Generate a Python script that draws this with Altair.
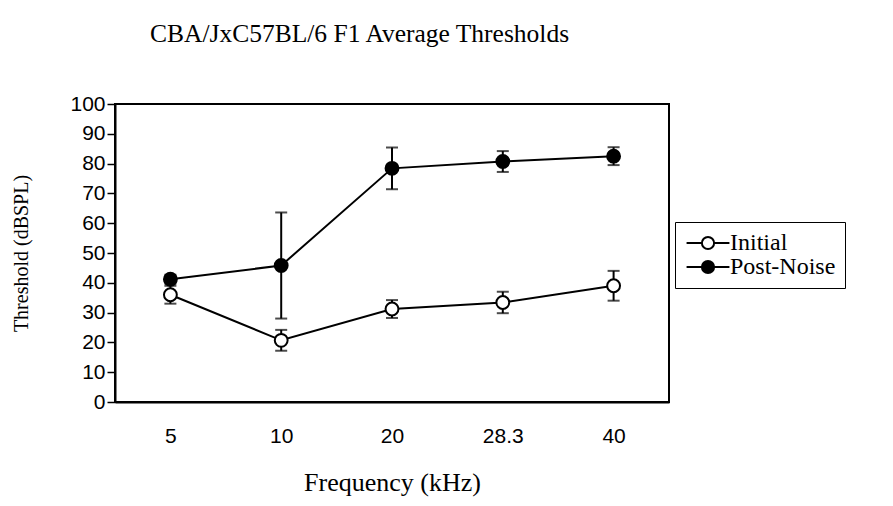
import altair as alt
import pandas as pd

# ---- data ----
freqs = ["5", "10", "20", "28.3", "40"]
series_names = ["Initial", "Post-Noise"]
initial_mean = [36.0, 20.7, 31.2, 33.4, 39.0]
initial_err = [3.0, 3.5, 3.0, 3.6, 5.0]
post_mean = [41.2, 45.8, 78.4, 80.7, 82.5]
post_err = [1.5, 17.8, 7.0, 3.5, 3.0]
y_ticks = list(range(0, 101, 10))

rows = []
for name, means, errs in [
    (series_names[1], post_mean, post_err),
    (series_names[0], initial_mean, initial_err),
]:
    for i, (f, m, e) in enumerate(zip(freqs, means, errs)):
        rows.append({"freq": f, "idx": i, "series": name, "mean": m,
                     "lo": m - e, "hi": m + e})
df = pd.DataFrame(rows)

SERIF = "Liberation Serif"
SANS = "Liberation Sans"

x_axis = alt.Axis(
    title="Frequency (kHz)", labelAngle=0, ticks=False, tickSize=0,
    domainColor="black", domainWidth=2,
    labelFont=SANS, labelFontSize=21, labelColor="black", labelPadding=23,
    titleFont=SERIF, titleFontSize=26, titleFontWeight="normal",
    titleColor="black", titlePadding=23,
)
x_enc = alt.X("freq:N", sort=freqs,
              scale=alt.Scale(type="point", padding=0.5), axis=x_axis)

y_scale = alt.Scale(domain=[0, 100], nice=False, zero=True)
y_axis = alt.Axis(
    values=y_ticks, grid=False, tickSize=8, tickColor="black", tickWidth=1.5,
    domainColor="black", domainWidth=2, labelOverlap=False,
    labelFont=SANS, labelFontSize=21, labelColor="black", labelPadding=2,
    title="Threshold (dBSPL)", titleFont=SERIF, titleFontSize=20,
    titleFontWeight="normal", titleColor="black", titlePadding=38,
)


def yq(field):
    return alt.Y(field, scale=y_scale, axis=y_axis)


base = alt.Chart(df)

lines = base.mark_line(color="black", strokeWidth=2).encode(
    x=x_enc, y=yq("mean:Q"), detail="series:N", order="idx:Q"
)
rules = base.mark_rule(color="black", strokeWidth=2).encode(
    x=x_enc, y=yq("lo:Q"), y2="hi:Q"
)
cap_lo = base.mark_tick(color="black", thickness=2, size=12, orient="horizontal").encode(
    x=x_enc, y=yq("lo:Q")
)
cap_hi = base.mark_tick(color="black", thickness=2, size=12, orient="horizontal").encode(
    x=x_enc, y=yq("hi:Q")
)

legend_symbol = "M-3.5,0L-1,0M1,0L3.5,0M1,0A1,1,0,1,1,-1,0A1,1,0,1,1,1,0Z"

points = base.mark_point(
    shape="circle", filled=True, size=165, stroke="black", strokeWidth=2, opacity=1
).encode(
    x=x_enc, y=yq("mean:Q"),
    fill=alt.Fill(
        "series:N",
        scale=alt.Scale(domain=series_names, range=["white", "black"]),
        legend=alt.Legend(
            title=None, orient="none", legendX=560, legendY=118,
            strokeColor="black", padding=9, cornerRadius=0,
            labelFont=SERIF, labelFontSize=24, labelColor="black", labelLimit=400,
            symbolType=legend_symbol, symbolSize=150, symbolStrokeWidth=2,
            symbolStrokeColor="black", symbolOffset=12, labelOffset=10,
            rowPadding=0,
        ),
    ),
)

chart = (
    alt.layer(lines, rules, cap_lo, cap_hi, points)
    .properties(
        width=554, height=298,
        autosize=alt.AutoSizeParams(type="none"),
        padding={"left": 107, "top": 96, "right": 216, "bottom": 96},
        title=alt.TitleParams(
            "CBA/JxC57BL/6 F1 Average Thresholds",
            font=SERIF, fontSize=25.5, fontWeight="normal", color="black",
            anchor="start", frame="group", dx=35, offset=46,
        ),
    )
    .configure(background="white")
    .configure_view(stroke="black", strokeWidth=2)
)

chart.save("out.html", embed_options={"renderer": "svg", "actions": False})
